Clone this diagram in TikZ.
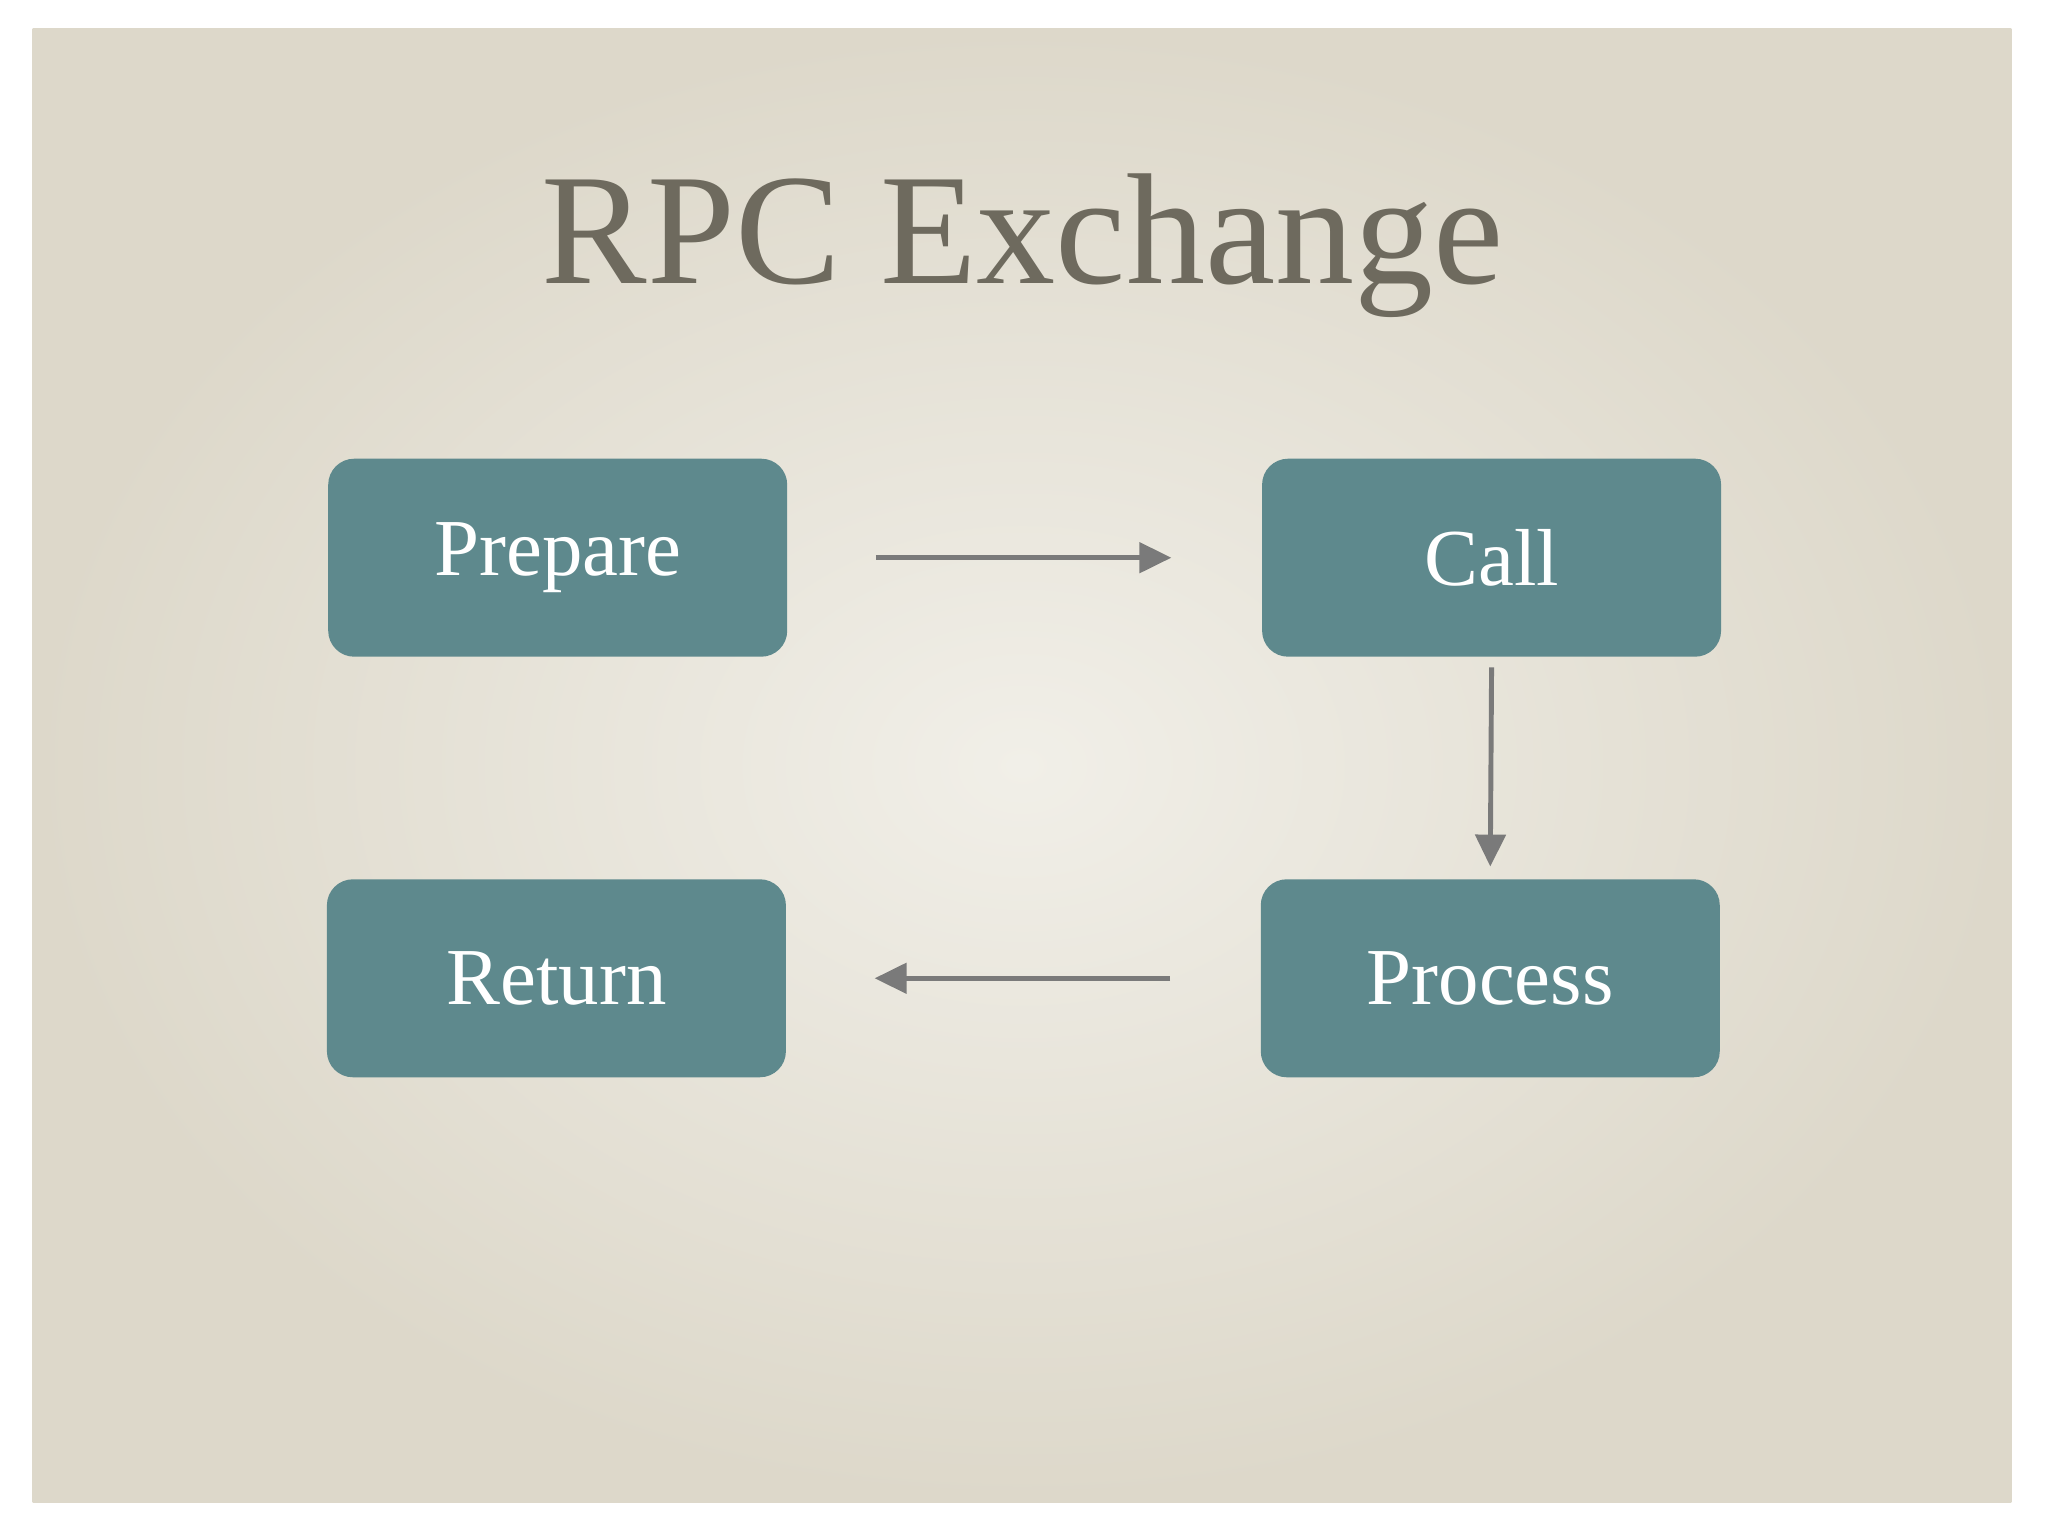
\documentclass[tikz,border=0pt]{standalone}
\usepackage{fontspec}
\setmainfont{Liberation Serif}
\usetikzlibrary{arrows.meta}
\definecolor{paper}{HTML}{DDD8CA}
\definecolor{paperlight}{HTML}{F1EFE8}
\definecolor{titlec}{HTML}{6E6A5E}
\definecolor{boxc}{HTML}{5E898D}
\definecolor{arrc}{HTML}{7A7A7A}
\tikzset{
  stepbox/.style={draw=none,fill=boxc,rounded corners=0.26cm,minimum width=4.59cm,minimum height=1.98cm,text=white,font=\fontsize{23}{28}\selectfont},
  conn/.style={draw=arrc,line width=1.4pt,-{Triangle[length=0.32cm,width=0.3cm]}}
}
\begin{document}
\begin{tikzpicture}[x=0.01306cm,y=-0.01306cm]
\useasboundingbox (0,0) rectangle (1568,1176);
\fill[white] (0,0) rectangle (1568,1176);
\shade[inner color=paperlight,outer color=paper] (25,22) rectangle (1540,1150);
\node[text=titlec,font=\fontsize{45}{54}\selectfont] (title) at (783,188) {RPC Exchange};
\node[stepbox] (prep) at (427,427) {Prepare};
\node[stepbox] (call) at (1142,427) {Call};
\node[stepbox] (ret) at (426,749) {Return};
\node[stepbox] (proc) at (1141,749) {Process};
\draw[conn] ([xshift=0.88cm]prep.east) -- ([xshift=-0.9cm]call.west);
\draw[conn] ([yshift=-0.1cm]call.south) -- ([yshift=0.12cm]proc.north);
\draw[conn] ([xshift=-0.9cm]proc.west) -- ([xshift=0.88cm]ret.east);
\end{tikzpicture}
\end{document}
